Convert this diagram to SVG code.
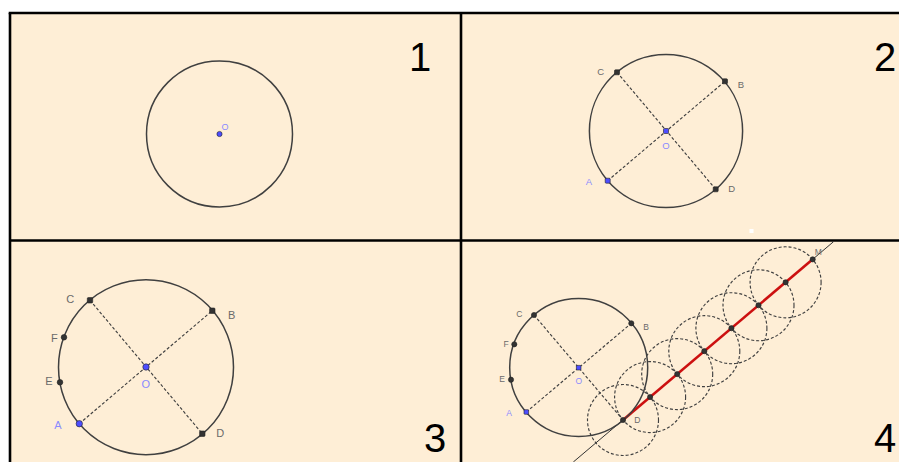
<svg xmlns="http://www.w3.org/2000/svg" width="899" height="462" viewBox="0 0 899 462">
<style>
.bg{fill:#FEEED6}
.frame{stroke:#000;stroke-width:2.6;fill:none}
.circ{fill:none;stroke:#404040;stroke-width:1.5}
.dash{fill:none;stroke:#404040;stroke-width:1.15;stroke-dasharray:3 2}
.pt{fill:#333;stroke:#222;stroke-width:0.6}
.bpt{fill:#4D4DFF;stroke:#222;stroke-width:0.6}
.lab{font-family:"Liberation Sans",Arial,sans-serif;fill:#6A6A6A;text-anchor:middle}
.blab{font-family:"Liberation Sans",Arial,sans-serif;fill:#8A8AFF;text-anchor:middle}
.num{font-family:"Liberation Sans",Arial,sans-serif;font-size:40px;fill:#000;text-anchor:middle}
.s2{font-size:9.5px}.s3{font-size:11px}.s4{font-size:8.5px}.s1{font-size:9px}
</style>
<rect x="0" y="0" width="899" height="462" fill="#fff"/>
<rect class="bg" x="10" y="13" width="889" height="449"/>
<rect x="749.5" y="229" width="4" height="4" fill="#fff"/>

<g id="frame">
<line class="frame" x1="8.7" y1="13" x2="899" y2="13"/>
<line class="frame" x1="10" y1="13" x2="10" y2="462"/>
<line class="frame" x1="461" y1="13" x2="461" y2="462"/>
<line class="frame" x1="10" y1="240.5" x2="899" y2="240.5"/>
</g>

<!-- Panel 1 -->
<g id="panel1">
<g id="p1-circle"><circle class="circ" cx="219.5" cy="134" r="73"/></g>
<g id="p1-O"><circle class="bpt" cx="219.5" cy="134" r="2.6"/><text class="blab s1" x="225" y="130.3">O</text></g>
<text class="num" x="420" y="71">1</text>
</g>

<!-- Panel 2 -->
<g id="panel2">
<g id="p2-connectors">
<line class="dash" x1="607.7" y1="180.7" x2="725" y2="81.3"/>
<line class="dash" x1="617" y1="72.3" x2="715.7" y2="189.3"/>
</g>
<g id="p2-circle"><circle class="circ" cx="666" cy="131" r="76.6"/></g>
<g id="p2-C"><rect class="pt" x="614.5" y="69.8" width="5" height="5" rx="1"/><text class="lab s2" x="600.7" y="75.4">C</text></g>
<g id="p2-B"><rect class="pt" x="722.5" y="78.8" width="5" height="5" rx="1"/><text class="lab s2" x="741" y="88.4">B</text></g>
<g id="p2-D"><rect class="pt" x="713.2" y="186.8" width="5" height="5" rx="1"/><text class="lab s2" x="731.7" y="192.4">D</text></g>
<g id="p2-A"><rect class="bpt" x="605.2" y="178.2" width="5" height="5" rx="1"/><text class="blab s2" x="589" y="185">A</text></g>
<g id="p2-O"><rect class="bpt" x="663.5" y="128.5" width="5" height="5" rx="1"/><text class="blab s2" x="666" y="149.4">O</text></g>
<text class="num" x="885" y="71">2</text>
</g>

<!-- Panel 3 -->
<g id="panel3">
<g id="p3-connectors">
<line class="dash" x1="79.3" y1="423.7" x2="212.3" y2="310.7"/>
<line class="dash" x1="90" y1="300.3" x2="202.3" y2="433.7"/>
</g>
<g id="p3-circle"><circle class="circ" cx="146" cy="367.2" r="87.5"/></g>
<g id="p3-C"><rect class="pt" x="87.3" y="297.6" width="5.4" height="5.4" rx="1"/><text class="lab s3" x="70.3" y="303.2">C</text></g>
<g id="p3-B"><rect class="pt" x="209.6" y="308" width="5.4" height="5.4" rx="1"/><text class="lab s3" x="231.7" y="318.9">B</text></g>
<g id="p3-F"><circle class="pt" cx="64" cy="337.3" r="2.8"/><text class="lab s3" x="54.3" y="341.6">F</text></g>
<g id="p3-E"><circle class="pt" cx="60" cy="382.3" r="2.8"/><text class="lab s3" x="49" y="384.6">E</text></g>
<g id="p3-A"><circle class="bpt" cx="79.3" cy="423.7" r="3.2"/><text class="blab s3" x="58" y="428.9">A</text></g>
<g id="p3-D"><rect class="pt" x="199.6" y="431" width="5.4" height="5.4" rx="1"/><text class="lab s3" x="220.3" y="437.2">D</text></g>
<g id="p3-O"><circle class="bpt" cx="146" cy="367" r="3.2"/><text class="blab s3" x="145.7" y="387.9">O</text></g>
<text class="num" x="435" y="452">3</text>
</g>

<!-- Panel 4 -->
<g id="panel4">
<g id="p4-connectors">
<line class="dash" x1="526.3" y1="412" x2="631.3" y2="323.3"/>
<line class="dash" x1="534" y1="315" x2="623" y2="420"/>
<circle class="dash" cx="623" cy="420" r="35.5"/>
<circle class="dash" cx="650.1" cy="397.05" r="35.5"/>
<circle class="dash" cx="677.2" cy="374.1" r="35.5"/>
<circle class="dash" cx="704.3" cy="351.15" r="35.5"/>
<circle class="dash" cx="731.4" cy="328.2" r="35.5"/>
<circle class="dash" cx="758.5" cy="305.25" r="35.5"/>
<circle class="dash" cx="785.6" cy="282.3" r="35.5"/>
<line x1="573.3" y1="462" x2="833.5" y2="241.7" stroke="#333" stroke-width="1"/>
<line x1="623" y1="420" x2="812.7" y2="259.35" stroke="#CC1010" stroke-width="2.6"/>
</g>
<g id="p4-circle"><circle class="circ" cx="578.7" cy="367.5" r="69"/></g>
<g id="p4-C"><circle class="pt" cx="534" cy="315" r="2.6"/><text class="lab s4" x="519.3" y="317.3">C</text></g>
<g id="p4-B"><circle class="pt" cx="631.3" cy="323.3" r="2.6"/><text class="lab s4" x="646" y="329.7">B</text></g>
<g id="p4-F"><circle class="pt" cx="514.3" cy="344.3" r="2.6"/><text class="lab s4" x="506" y="347.3">F</text></g>
<g id="p4-E"><circle class="pt" cx="511" cy="379.7" r="2.6"/><text class="lab s4" x="502" y="382">E</text></g>
<g id="p4-A"><rect class="bpt" x="524" y="409.7" width="4.6" height="4.6" rx="0.8"/><text class="blab s4" x="509" y="416.3">A</text></g>
<g id="p4-O"><rect class="bpt" x="576.4" y="365.4" width="4.6" height="4.6" rx="0.8"/><text class="blab s4" x="578.7" y="384">O</text></g>
<g id="p4-D"><circle class="pt" cx="623" cy="420" r="2.6"/><text class="lab s4" x="637.3" y="423">D</text></g>
<g id="p4-P1"><circle class="pt" cx="650.1" cy="397.05" r="2.6"/></g>
<g id="p4-P2"><circle class="pt" cx="677.2" cy="374.1" r="2.6"/></g>
<g id="p4-P3"><circle class="pt" cx="704.3" cy="351.15" r="2.6"/></g>
<g id="p4-P4"><circle class="pt" cx="731.4" cy="328.2" r="2.6"/></g>
<g id="p4-P5"><circle class="pt" cx="758.5" cy="305.25" r="2.6"/></g>
<g id="p4-P6"><circle class="pt" cx="785.6" cy="282.3" r="2.6"/></g>
<g id="p4-M"><circle class="pt" cx="812.7" cy="259.35" r="2.6"/><text class="lab s4" x="818.3" y="255.3">M</text></g>
<text class="num" x="885" y="452">4</text>
</g>
</svg>
